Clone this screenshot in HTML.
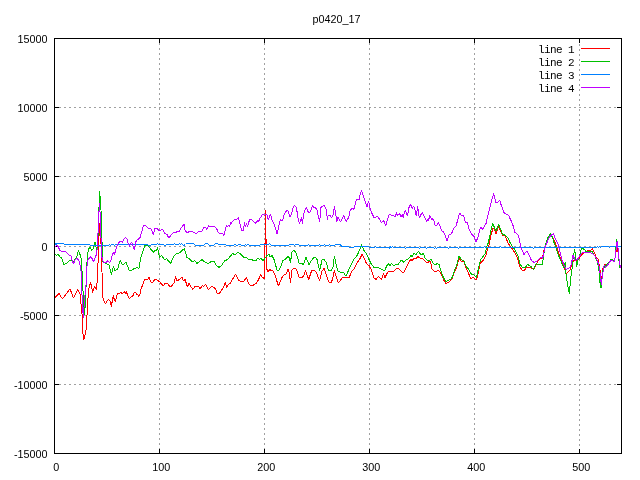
<!DOCTYPE html>
<html><head><meta charset="utf-8"><title>p0420_17</title>
<style>
html,body{margin:0;padding:0;background:#fff;}
body{width:640px;height:480px;overflow:hidden;}
svg{display:block;}
text{fill:#000;}
.n{font-family:"Liberation Sans","DejaVu Sans",sans-serif;font-size:10.8px;}
.m{font-family:"Liberation Mono","DejaVu Sans Mono",monospace;font-size:11px;letter-spacing:-0.6px;}
</style></head><body>
<svg width="640" height="480" viewBox="0 0 640 480">
<rect width="640" height="480" fill="#fff"/>
<g stroke="#a0a0a0" stroke-width="1" stroke-dasharray="2 3" shape-rendering="crispEdges" fill="none">
<line x1="159.5" y1="38" x2="159.5" y2="453"/>
<line x1="264.5" y1="38" x2="264.5" y2="453"/>
<line x1="369.5" y1="38" x2="369.5" y2="453"/>
<line x1="474.5" y1="38" x2="474.5" y2="453"/>
<line x1="579.5" y1="39" x2="579.5" y2="453"/>
<line x1="54" y1="107.5" x2="621" y2="107.5"/>
<line x1="54" y1="176.5" x2="621" y2="176.5"/>
<line x1="54" y1="246.5" x2="621" y2="246.5"/>
<line x1="54" y1="315.5" x2="621" y2="315.5"/>
<line x1="54" y1="384.5" x2="621" y2="384.5"/>
</g>
<g stroke="#000" stroke-width="1" shape-rendering="crispEdges" fill="none">
<rect x="54.5" y="38.5" width="567" height="415"/>
<line x1="159.5" y1="449" x2="159.5" y2="453"/>
<line x1="159.5" y1="39" x2="159.5" y2="43"/>
<line x1="264.5" y1="449" x2="264.5" y2="453"/>
<line x1="264.5" y1="39" x2="264.5" y2="43"/>
<line x1="369.5" y1="449" x2="369.5" y2="453"/>
<line x1="369.5" y1="39" x2="369.5" y2="43"/>
<line x1="474.5" y1="449" x2="474.5" y2="453"/>
<line x1="474.5" y1="39" x2="474.5" y2="43"/>
<line x1="579.5" y1="449" x2="579.5" y2="453"/>
<line x1="579.5" y1="39" x2="579.5" y2="43"/>
<line x1="55" y1="107.5" x2="59" y2="107.5"/>
<line x1="617" y1="107.5" x2="621" y2="107.5"/>
<line x1="55" y1="176.5" x2="59" y2="176.5"/>
<line x1="617" y1="176.5" x2="621" y2="176.5"/>
<line x1="55" y1="246.5" x2="59" y2="246.5"/>
<line x1="617" y1="246.5" x2="621" y2="246.5"/>
<line x1="55" y1="315.5" x2="59" y2="315.5"/>
<line x1="617" y1="315.5" x2="621" y2="315.5"/>
<line x1="55" y1="384.5" x2="59" y2="384.5"/>
<line x1="617" y1="384.5" x2="621" y2="384.5"/>
</g>
<g fill="none" stroke-width="1" shape-rendering="crispEdges" stroke-linejoin="bevel">
<polyline stroke="#ff0000" points="55,297.5 59,293.5 62.5,299 70,288.7 73.4,298 77.7,289.4 80,294 82,313.7 82.7,332.5 84,339.5 86,330 87,315 88.4,291 90.5,282 92.7,292.5 94.6,286 96.5,290 97.5,277 98.5,250 99.5,223.5 100.5,240 101.5,247 102.5,296.5 103.6,300.2 105.4,303.6 108.3,299.4 110.1,301.4 111.5,307.3 112.3,299.8 113.3,295.4 114.6,301 115.5,301 116.6,296.2 117.8,293.4 119,294.2 120.4,292.5 122.2,293.4 124.4,291.7 125.3,294.2 126.3,291.5 127.7,295.4 129.4,298.6 131.3,296.6 132.3,297.2 134.4,292.3 135.6,292.7 136.8,294.2 137.8,294 138.6,296.5 140,294.2 141.1,288.7 143.1,284 144.6,279.4 147,280 149,277.5 151,282 152.5,283 154.6,279.4 157,280 160,282 163,286 165,283.5 167.5,283.5 169.6,286.5 171.5,286.2 174,282.7 175.6,276.5 177,281 182,277.5 183.4,281 185,279.4 187.5,287 189,283.5 192.7,289.4 195,286.5 198.4,286 200,289 202.5,285.6 203.7,286.5 205.5,284.4 208.4,289.4 211.5,286.5 214,287.5 215.5,288.7 217.5,294 219.6,293 222.7,288.7 225.5,282.5 226.5,288 228.4,284.4 230,283.7 235.5,274.4 238.4,280 241,282 243.4,281.8 246.5,277.5 248.7,284 252,286 256.5,283 258.4,280 260.5,274.7 262,277 264.5,278.7 265.5,210.5 266.5,267.5 267.7,272 270,269.4 271.5,271 272.7,270.6 275,275 278.4,286 282.7,276 286,274 288,269.4 289,272 290.5,282.5 292,270 294,268 296.5,269.4 299,277 302.7,277 304,275 305.5,270.6 308.7,279.4 311.5,271 314,270 316.5,272.5 319.6,281 322,271 324,268.5 326,273.7 328.7,282 331,283 332.7,278.7 334.4,270.6 336,276 338.4,283 342,278 346,277 349,278 351.5,272 354.6,268 357,263 359.6,259.4 362,254.4 364,258 366.5,263.7 369,265.6 371.5,270 373.7,277.5 374,278 376,279.4 378.4,276.5 381.5,279.4 383.4,273.5 385,277.5 387.7,272 389.6,271 394,271 397,268 399,268.7 401.7,272 404,272 406.7,267 409,262 411,259.4 412,261 414,258 416,258.7 418,256.5 420.5,258.5 422.7,258.7 425,261 427.5,263 429,261.5 430.5,262 432,268.7 435,272 438.4,270 440,272 442,275.6 444,280.6 446,283.5 449,282 452,279.4 454,273 456.5,267.5 459,258 461.5,262 463.7,260.6 466,268 468.4,273 471,279 473,277.5 476.5,280 478.4,272.5 480,263.7 483.4,260 486,255 487.5,249.4 489,245 491,235 493,228 494.3,228.7 496,233.5 498.7,226 501,232 502.7,235.6 505.5,236.2 507.7,242.5 509.6,245.6 512.7,249.4 516,255 517.7,258.7 520,267 522,270 524,270.6 527,267 530.2,267.5 534,269 537.5,262 540,258.7 542.5,258 543.5,252 545.6,245 548,239 550.6,235 552.5,237.5 554,240 556.2,245.6 560.6,258.7 563,264 566,273 567.3,273 570,270 573.7,260.6 577.5,260.6 580,257 583.7,252.5 586.2,251.2 590,250.6 592.5,248.7 594.4,252.5 596.2,257.5 598,259 599.4,266 601.5,280 603,268 605,264 607,266 611,259.5 614.4,261 616,252 617.3,247 618.5,256 620,267"/>
<polyline stroke="#00c000" points="55.2,254 56.5,256 58,254 60.2,257 61.5,258 64,264.4 66.5,263.7 70,260 73.4,262 76.5,257.5 78.4,250.4 80,254.5 81.5,260 82,271 83.5,300 84.6,315 85.5,300 86.5,275 87.2,258 88.4,249.4 90.2,247 91.7,250.3 93,249.4 95,242.5 96.5,248.7 97.5,250 98.5,224 99.5,191.5 100.5,200 101.5,220 102.5,261.5 103.5,262.5 105,263 109,265 111.5,274.4 113.4,266 115,271 117.7,268.7 120,260.6 122.7,265 126,262.5 129.6,271 133.4,269.4 134,268.7 137,267.5 139,268.5 140,262.5 141.5,255 143.4,250 145,245.6 146.5,245 149.6,247.5 153.4,252.5 155,250 156.2,250.6 157.5,247.5 159.6,257.5 161.7,255.6 164.6,260 166.7,258.7 170.6,263.5 174,256 177,253 178.4,253.7 184.4,248.5 187,257.5 190,259.4 192.7,262 194.6,260.6 197,263.5 202,259.6 204.6,262 208.4,263.5 210.5,262 214,261.5 216.5,265.6 219,267.5 221.5,265.6 224.6,261 227.7,259.4 232.7,253.5 235,255 237.7,252.3 241,254.4 244,257.5 246,257.2 247.7,259 251.5,259.7 256,261 257.7,258 259.6,259.4 261.2,258.5 263,261 266.5,256 269,254.4 270.2,256.8 272,255.6 274,259.4 277,270 279,270.4 281,266 282.7,260.6 285.2,259.7 287.7,256.5 289,257.5 290.5,263 291.7,252.5 294,250.2 296.5,253.7 299,263 302,263.5 303.4,265 306,257.5 309,264.4 312.7,258.7 315,257 317,259.4 319.6,271 322,260 324,259.4 326,262 328.4,270 331.5,270 333,267 334.4,255.6 336,263.7 337.7,270.6 340,272 343.4,272.5 346,276 349,269.4 353.7,259.4 357,255.6 359.6,250 361.5,244.4 364,250.6 366.5,253.7 369,259.4 371.5,264.4 374,267.5 377,267 380.2,268.7 382.7,270 385.2,270 386.5,266 388.7,263.7 390,265.6 391.5,263.5 394,266 396,264.4 397.7,265 401.5,260 403.7,262.2 406,260 407.7,259.4 411,255.6 412,257 414,253.5 416,254.4 418.4,251.5 421.5,255 423.4,253 425,258 427.7,261 429.6,260 431.2,259.4 432.7,263 435,265 437,263.7 439,264.4 441,271 443.4,277.5 446,282 447.7,280.6 450.2,279.7 452,277.5 454,272 456.5,265.6 459,256 461.7,260 463.7,260.6 466,266 469,270 471.5,274.4 473.7,275 476.5,277.5 478.4,268.7 480.5,260 483.4,256 485.2,253.7 487,246 488.4,242.5 491,230 492.7,223.5 494.2,227 496,231 498.7,224.4 501,230 502.7,234.4 504.6,235 507.7,237.5 510,242.5 511.5,245 515,250 517.7,255 520,263.7 522,267 524.6,268 527.7,264.4 531.5,267 533.7,270 536,263.7 539.4,265 542.5,264.4 543.5,256 545.6,243.7 548,237.5 550.6,233.7 552.5,237.5 554.4,243.7 556,248 559.4,257.5 562.5,265 564.4,268 565.2,262 566,273.7 567.5,285 569.4,294 570.6,279 572,268.7 573.2,257.5 574.6,249.4 575.6,255 576.5,267 578,260.5 580,254 581.7,248 584.4,249.4 586.2,251.7 590,251 592,251.5 593.2,253.7 595,256 597.5,262 599.2,271.5 600,282.5 601,288 602.2,276 603.2,268.7 605,266 607.5,264.4 611,259.4 614.4,260.6 615.2,257 616,246 616.7,239.4 618,248 618.8,260 620,268"/>
<polyline stroke="#0080ff" points="54.5,243.5 55.5,243.5 56,244.5 56.8,243.5 63.5,243.5 64.5,244.5 89.5,244.5 90.5,245.5 108.5,245.5 109.5,244.5 110.5,245.5 111.5,244.5 113.5,244.5 114.5,245.5 115.5,244.5 147.5,244.5 148.5,245.5 150.5,245.5 151.5,244.5 156.5,244.5 157.5,243.5 158.5,244.5 163.5,244.5 164.5,245.5 165.5,245.5 166.5,244.5 173.5,244.5 174.5,243.5 175.5,244.5 178.5,244.5 179.5,243.5 180.5,244.5 181.5,243.5 182.5,244.5 183.5,245.5 185.5,244.5 186.5,243.5 193.5,243.5 194.5,244.5 195.5,245.5 203.5,245.5 204.5,244.5 205.5,243.5 207.5,243.5 208.5,244.5 209.5,245.5 213.5,245.5 214.5,244.5 215.5,243.5 217.5,243.5 218.5,244.5 225.5,244.5 226.5,245.5 233.5,245.5 234.5,244.5 235.5,244.5 236.5,245.5 237.5,245.5 238.5,244.5 240.5,244.5 241.5,245.5 244.5,245.5 245.5,244.5 246.5,245.5 247.5,244.5 248.5,244.5 249.5,245.5 259.5,245.5 260.5,244.5 268.5,244.5 269.5,243.5 270.5,244.5 271.5,245.5 288.5,245.5 289.5,244.5 293.5,244.5 294.5,245.5 295.5,244.5 298.5,244.5 299.5,245.5 307.5,245.5 308.5,244.5 309.5,245.5 318.5,245.5 319.5,244.5 320.5,245.5 323.5,245.5 324.5,244.5 325.5,245.5 328.5,245.5 329.5,244.5 330.5,245.5 334.5,245.5 335.5,244.5 340.5,244.5 341.5,246.5 348.5,246.5 349.5,247.5 353.5,247.5 354.5,246.5 368.5,246.5 369.5,247.5 374.5,247.5 375.5,246.5 376.5,247.5 388.5,247.5 389.5,248.5 390.5,246.5 391.5,247.5 392.5,246.5 393.5,247.5 404.5,247.5 405.5,248.5 406.5,247.5 418.5,247.5 419.5,248.5 420.5,247.5 425.5,247.5 426.5,248.5 427.5,247.5 433.5,247.5 434.5,248.5 435.5,247.5 436.5,248.5 437.5,247.5 447.5,247.5 448.5,248.5 449.5,247.5 457.5,247.5 458.5,248.5 459.5,247.5 483.5,247.5 484.5,246.5 485.5,247.5 499.5,247.5 500.5,246.5 501.5,247.5 532.5,247.5 533.5,248.5 534.5,247.5 596.5,247.5 597.5,246.5 598.5,247.5 599.5,246.5 600.5,247.5 601.5,246.5 608.5,246.5 609.5,247.5 610.5,246.5 620.5,246.5"/>
<polyline stroke="#c000ff" points="55.2,247 57,245.3 58.4,247 59.6,250 62,251.5 66,252 69,255.3 71,256 72,260 73.4,263.7 75.2,260 76.8,258.4 78.7,260 79.5,262.5 81,271 82,295 83.3,318 84.5,300 86,285 87,266 88,260 90.2,256.5 92,258.5 93.7,262 96,255.6 97.5,247.5 98.5,219.5 99.5,203.5 100.5,219.5 101.5,255.5 102.5,259.5 103.5,262 106,262.5 107.7,260.6 109.6,262.5 110.6,261.4 111.6,257.6 112.5,253.6 113.4,252.3 114.5,254.5 115.6,250.4 116.7,247 118.1,243.6 120,241.7 121.9,241.4 122.4,243 123.4,240.1 125.5,237.3 126.9,238.9 128.1,243 129.5,246.4 130.6,243.3 131.6,242.3 132.8,245.4 134.4,249.5 135.3,244.5 136.2,240.7 138.7,238.9 140,237.5 143.4,226 145,225 147.7,228 151,228.7 153.4,234.4 155,228 157,228.7 159,230.6 162.7,229.4 165,233.7 167,234.4 168.7,238 173.4,232.5 175.2,233 177.7,231 179,231.9 181,228 184.4,223.7 185,230 187,233 190,231 193.4,232 196.5,234 198.4,231.5 202,231 204,227 205.2,227 207,229.4 208.7,225.6 210,227 214.4,226.5 216.8,229.1 218.7,233.1 222.3,233.1 223.9,235.5 225.5,228.7 226.5,225.6 227.4,226.8 228.6,225.2 229.4,227.2 230.5,222.6 231,224 232.6,221.2 234.4,219.4 236.9,219.2 238.4,217.3 239.3,220.8 240.5,226 241.7,230.3 243.4,231.1 244.5,222.4 245.5,227.2 246.4,223.6 247.6,226.4 248.8,222 250,219.6 251.6,219.4 255.5,223.2 257.5,220.8 258.5,222 259.5,219.2 262.4,214.4 264.7,215.4 266.7,214.2 268.3,220.2 269.5,215.8 270.7,214.6 272.3,221 274.2,224.1 275.8,229.3 277.2,234.4 278.6,226.9 279.4,222.5 280.6,219.4 281.4,221 282.9,219.8 284.1,214.2 285.3,212.3 287.5,210.1 288.9,213 289.7,217 290.9,215.4 292,212 293.2,207.1 294.4,205.1 296.4,207.5 297.2,212.7 298.5,220.5 299.5,223.5 300.5,220.5 301.5,217.5 302.5,223.5 303.5,214.5 304.7,210.3 306.5,207.3 307.9,211.5 309.4,213 310.2,212 312.5,205.6 313.7,208 315,207 317,210 319.6,222 321,207.5 324,205 326,208.7 327.5,220 328,215.6 330.2,215 331.5,218 333,215 334.4,206.5 335.5,212.5 336.7,221.5 338,217.5 340.5,222 343.6,215.6 346.5,222 347.7,218 348.4,218.7 350,211 352,208 354,209.4 356.5,199.4 359,200 360.2,194.4 361.5,190 364,198 367,207 368.6,201 370.2,209.4 372.7,215 374,217.5 377.7,216.5 381.5,222.5 383.7,220.6 385.6,226 389,214.7 392.7,215.2 395.4,216.6 396.4,212.6 397.4,215.8 398.3,214.6 399.4,213.4 401.3,217 402.4,213.8 403.3,218.2 404.5,211.4 405.7,210.7 407.3,216.2 408.4,210.7 409.4,205.5 410.4,204.3 412.4,208.3 413.6,206.3 414.8,209 416.4,216.2 417.5,206.3 418.3,210.7 419.4,218.2 420.3,215.8 422.3,212.2 424.7,217.4 426.6,221.3 427.8,219 428.4,221.3 429.7,215.4 431,217.8 431.6,220.2 432.2,218.6 433.8,220.2 435.4,226.1 437.3,224.9 438.5,222.5 440.1,226.5 441.7,230.8 443.3,231.6 444.8,234 447,241 449,235 451.5,233.7 454,227.8 456,226.2 459.6,213 461.5,215.6 463.7,216 465.5,222.5 467.2,222 469,228.7 471.5,234.4 473.7,235.6 476,242 477.7,238 480.5,227 482.5,229.4 486,223.5 488.4,213 491.5,201 493.7,193.5 496,202.5 497.2,203 499.6,200 501.5,206 504,212.5 506.5,214.4 508.4,215 511,220.6 512.7,224.4 515,232.5 517.7,234.4 519,238 521,248 524,254.4 527,251 529,255 531.5,260.6 534.4,262.5 537.5,260.6 540.6,257 542.5,258.7 544,252.5 545.6,246 548,240 550.6,235.6 553.5,233.5 555.6,239.4 558,243.7 560,252 562,260 564.4,266 566.2,269.4 569.4,268 571.2,265 573,255 575.2,260.6 577.5,259.4 580,255.6 582.5,252 585,253 587.5,252 591.2,253 593.7,254.4 596.2,258 598,262.5 599.4,267.5 601.3,285 602.5,275 603.7,267 604.6,265 605.7,267.5 608,264.4 611.2,260 614.4,262 615.6,253.7 617.2,241 618.1,248.7 619,259 620.6,268"/>
</g>
<g>
<text class="n" x="47.5" y="42.5" text-anchor="end">15000</text>
<text class="n" x="47.5" y="111.5" text-anchor="end">10000</text>
<text class="n" x="47.5" y="180.5" text-anchor="end">5000</text>
<text class="n" x="47.5" y="250.5" text-anchor="end">0</text>
<text class="n" x="47.5" y="319.5" text-anchor="end">-5000</text>
<text class="n" x="47.5" y="388.5" text-anchor="end">-10000</text>
<text class="n" x="47.5" y="457.5" text-anchor="end">-15000</text>
<text class="n" x="59.2" y="471" text-anchor="end">0</text>
<text class="n" x="170.2" y="471" text-anchor="end">100</text>
<text class="n" x="275.2" y="471" text-anchor="end">200</text>
<text class="n" x="380.2" y="471" text-anchor="end">300</text>
<text class="n" x="485.2" y="471" text-anchor="end">400</text>
<text class="n" x="590.2" y="471" text-anchor="end">500</text>
<text class="n" x="360.5" y="23" text-anchor="end">p0420_17</text>
<text class="m" x="574" y="52.5" text-anchor="end">line 1</text>
<line x1="581" y1="48.5" x2="610" y2="48.5" stroke="#ff0000" stroke-width="1" shape-rendering="crispEdges"/>
<text class="m" x="574" y="65.5" text-anchor="end">line 2</text>
<line x1="581" y1="61.5" x2="610" y2="61.5" stroke="#00c000" stroke-width="1" shape-rendering="crispEdges"/>
<text class="m" x="574" y="78.5" text-anchor="end">line 3</text>
<line x1="581" y1="74.5" x2="610" y2="74.5" stroke="#0080ff" stroke-width="1" shape-rendering="crispEdges"/>
<text class="m" x="574" y="91.5" text-anchor="end">line 4</text>
<line x1="581" y1="87.5" x2="610" y2="87.5" stroke="#c000ff" stroke-width="1" shape-rendering="crispEdges"/>
</g>
</svg>
</body></html>
